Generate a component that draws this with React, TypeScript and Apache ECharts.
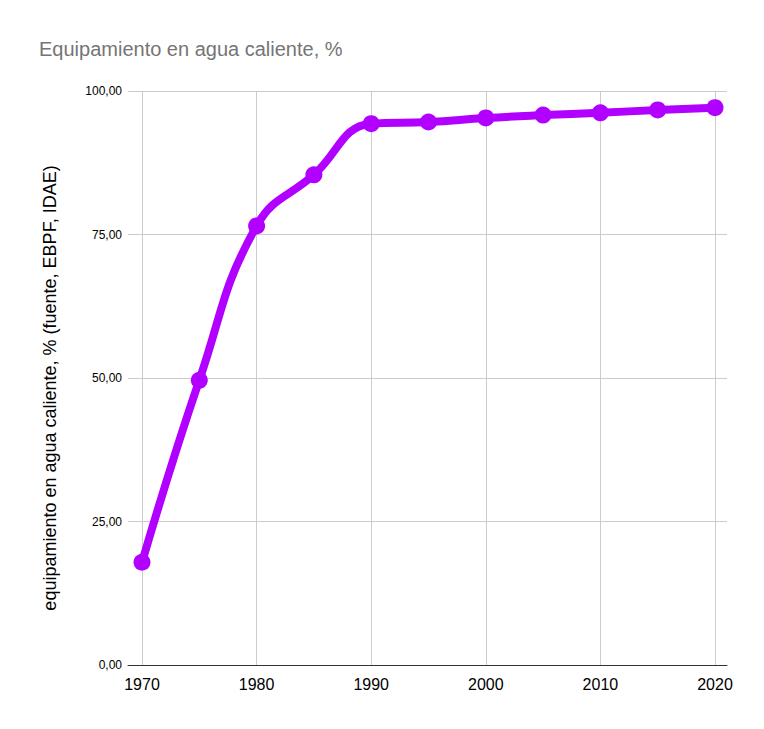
import React, { useEffect, useRef } from "react";
import * as echarts from "echarts";

const years = [1970, 1975, 1980, 1985, 1990, 1995, 2000, 2005, 2010, 2015, 2020];
const values = [17.9, 49.6, 76.5, 85.4, 94.3, 94.6, 95.3, 95.8, 96.2, 96.7, 97.1];
const titleText = "Equipamiento en agua caliente, %";
const yAxisName = "equipamiento en agua caliente, % (fuente, EBPF, IDAE)";

export default function App() {
  const ref = useRef<HTMLDivElement>(null);
  useEffect(() => {
    document.body.style.margin = "0";
    const chart = echarts.init(ref.current!, undefined, { renderer: "svg" });
    const fontFamily = "Arial, 'Liberation Sans', sans-serif";
    chart.setOption({
      animation: false,
      backgroundColor: "#ffffff",
      textStyle: { fontFamily },
      title: {
        text: titleText,
        left: 34,
        top: 34,
        textStyle: { color: "#757575", fontSize: 20, fontWeight: "normal", fontFamily },
      },
      graphic: [
        {
          type: "text",
          x: 50,
          y: 388,
          rotation: Math.PI / 2,
          style: {
            text: yAxisName,
            fill: "#000",
            fontSize: 18,
            fontFamily,
            align: "center",
            verticalAlign: "middle",
          },
        },
      ],
      grid: [
        { left: 142, right: 49, top: 91, bottom: 64 },
        { left: 128, right: 37, top: 91, bottom: 64 },
      ],
      xAxis: [
        {
          type: "value",
          gridIndex: 0,
          min: 1970,
          max: 2020,
          interval: 10,
          axisLine: { show: false },
          axisTick: { show: false },
          axisLabel: { color: "#000", fontSize: 16, margin: 11, formatter: (v: number) => String(v) },
          splitLine: { show: true, lineStyle: { color: "#cccccc", width: 1 } },
        },
        {
          type: "value",
          gridIndex: 1,
          min: 0,
          max: 1,
          axisLine: { show: true, onZero: false, lineStyle: { color: "#333333", width: 1 } },
          axisTick: { show: false },
          axisLabel: { show: false },
          splitLine: { show: false },
        },
      ],
      yAxis: [
        {
          type: "value",
          gridIndex: 0,
          min: 0,
          max: 100,
          show: false,
          splitLine: { show: false },
        },
        {
          type: "value",
          gridIndex: 1,
          min: 0,
          max: 100,
          interval: 25,
          axisLine: { show: false },
          axisTick: { show: false },
          axisLabel: {
            color: "#000",
            fontSize: 12,
            margin: 6,
            formatter: (v: number) => v.toFixed(2).replace(".", ","),
          },
          splitLine: { show: true, lineStyle: { color: "#cccccc", width: 1 } },
        },
      ],
      series: [
        {
          type: "line",
          xAxisIndex: 0,
          yAxisIndex: 0,
          data: years.map((y, i) => [y, values[i]]),
          smooth: 0.45,
          symbol: "circle",
          symbolSize: 17,
          itemStyle: { color: "#b100ff" },
          lineStyle: { color: "#b100ff", width: 8 },
          z: 5,
        },
      ],
    });
    return () => chart.dispose();
  }, []);
  return <div ref={ref} style={{ width: 764, height: 729 }} />;
}
